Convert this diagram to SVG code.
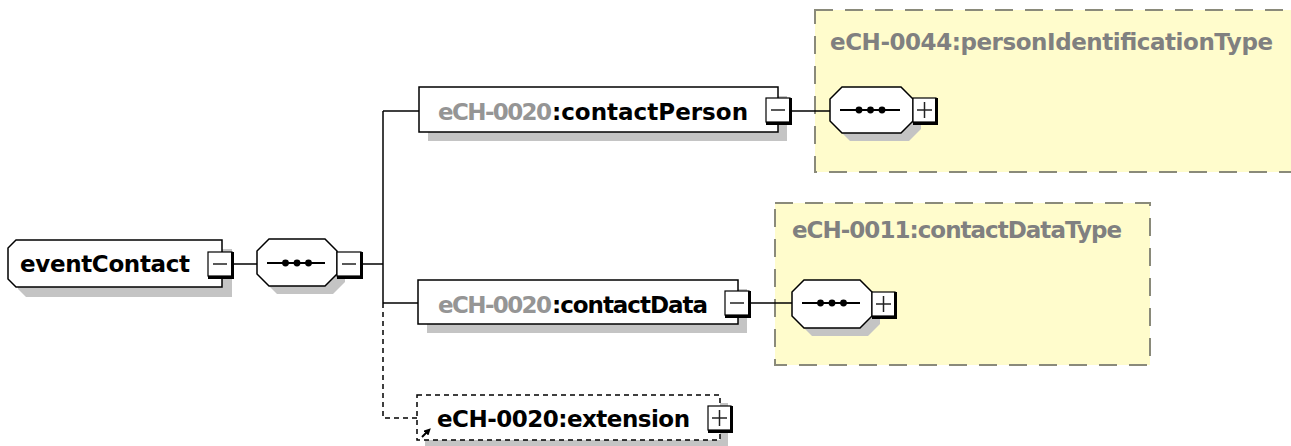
<svg xmlns="http://www.w3.org/2000/svg" width="1291" height="446" viewBox="0 0 1291 446">
<style>
.shadow{fill:#c4c4c4;stroke:none}
.box{fill:#fff;stroke:#000;stroke-width:1.5}
.grp{fill:#fffccc;stroke:#8a8a7a;stroke-width:2;stroke-dasharray:18 12}
.btn{fill:#fff;stroke:#000;stroke-width:1.2}
.btnedge{fill:none;stroke:#000;stroke-width:3}
.sym{fill:none;stroke:#222;stroke-width:1.5}
.conn{fill:none;stroke:#000;stroke-width:1.5}
.dash{fill:none;stroke:#000;stroke-width:1.5;stroke-dasharray:5 4}
.t{font-family:"DejaVu Sans",Verdana,sans-serif;font-weight:bold;font-size:23px}
.k{fill:#000}
.g{fill:#959595}
.gt{fill:#808080}
.seqline{stroke:#000;stroke-width:1.8}
</style>
<defs>
<g id="minus">
<rect class="btn" x="0" y="0" width="24" height="24"/>
<polyline class="btnedge" points="24.5,0 24.5,25.5 0,25.5"/>
<line class="sym" x1="5" y1="12" x2="19" y2="12"/>
</g>
<g id="plus">
<rect class="btn" x="0" y="0" width="23" height="24"/>
<polyline class="btnedge" points="23.5,0 23.5,25.5 0,25.5"/>
<line class="sym" x1="4" y1="12" x2="19" y2="12"/>
<line class="sym" x1="11.5" y1="4" x2="11.5" y2="20"/>
</g>
<marker id="ah" markerWidth="7" markerHeight="7" refX="3" refY="3.5" orient="auto" markerUnits="userSpaceOnUse">
<path d="M0,0 L7,3.5 L0,7 Z" fill="#000"/>
</marker>
</defs>

<g id="group-personIdentificationType">
<rect class="grp" x="815" y="10" width="490" height="162"/>
<text class="t gt" x="830" y="50" textLength="443">eCH-0044:personIdentificationType</text>
</g>
<g id="group-contactDataType">
<rect class="grp" x="775" y="203" width="375" height="162"/>
<text class="t gt" x="792" y="238" textLength="330">eCH-0011:contactDataType</text>
</g>

<g id="connectors">
<line class="conn" x1="233" y1="264" x2="257" y2="264"/>
<line class="conn" x1="362" y1="264" x2="383" y2="264"/>
<line class="conn" x1="383" y1="111" x2="383" y2="303"/>
<line class="conn" x1="383" y1="111" x2="419" y2="111"/>
<line class="conn" x1="383" y1="303" x2="418" y2="303"/>
<line class="conn" x1="791" y1="111" x2="830" y2="111"/>
<line class="conn" x1="750" y1="303" x2="792" y2="303"/>
<polyline class="dash" points="383,303 383,418 417,418"/>
</g>

<g id="eventContact">
<path class="shadow" d="M26,249 H232 V297 H26 L18,289 V257 Z"/>
<path class="box" d="M16,240 H222 V287 H16 L8,279 V248 Z"/>
<text class="t k" x="20" y="272" textLength="170">eventContact</text>
<use href="#minus" x="208" y="252"/>
</g>

<g id="sequence-1">
<path class="shadow" d="M277,247 H333 L345,259 V282 L333,294 H277 L265,282 V259 Z"/>
<path class="box" d="M269,239 H325 L337,251 V274 L325,286 H269 L257,274 V251 Z"/>
<line class="seqline" x1="267" y1="263" x2="325" y2="263"/>
<circle cx="285.5" cy="263" r="3.4"/><circle cx="297" cy="263" r="3.4"/><circle cx="308.5" cy="263" r="3.4"/>
<use href="#minus" x="337" y="252"/>
</g>

<g id="contactPerson">
<rect class="shadow" x="428" y="96" width="359" height="45"/>
<rect class="box" x="419" y="87" width="359" height="45"/>
<text class="t g" x="438" y="120" textLength="114">eCH-0020</text>
<text class="t k" x="552" y="120" textLength="196">:contactPerson</text>
<use href="#minus" x="766" y="98"/>
</g>

<g id="sequence-2">
<path class="shadow" d="M850,95 H909 L921,107 V129 L909,141 H850 L838,129 V107 Z"/>
<path class="box" d="M842,87 H901 L913,99 V121 L901,133 H842 L830,121 V99 Z"/>
<line class="seqline" x1="840" y1="110" x2="900" y2="110"/>
<circle cx="859" cy="110" r="3.4"/><circle cx="870.5" cy="110" r="3.4"/><circle cx="882" cy="110" r="3.4"/>
<use href="#plus" x="913" y="98"/>
</g>

<g id="contactData">
<rect class="shadow" x="427" y="289" width="320" height="44"/>
<rect class="box" x="418" y="280" width="320" height="44"/>
<text class="t g" x="438" y="313" textLength="114">eCH-0020</text>
<text class="t k" x="552" y="313" textLength="156">:contactData</text>
<use href="#minus" x="725" y="291"/>
</g>

<g id="sequence-3">
<path class="shadow" d="M812,288 H868 L880,300 V324 L868,336 H812 L800,324 V300 Z"/>
<path class="box" d="M804,280 H860 L872,292 V316 L860,328 H804 L792,316 V292 Z"/>
<line class="seqline" x1="802" y1="303" x2="860" y2="303"/>
<circle cx="820.5" cy="303" r="3.4"/><circle cx="832" cy="303" r="3.4"/><circle cx="843.5" cy="303" r="3.4"/>
<use href="#plus" x="872" y="292"/>
</g>

<g id="extension">
<rect class="shadow" x="425" y="403" width="303" height="45"/>
<rect x="417" y="395" width="303" height="45" fill="#fff" stroke="#000" stroke-width="1.5" stroke-dasharray="5 4"/>
<text class="t k" x="437" y="427" textLength="253">eCH-0020:extension</text>
<line x1="422" y1="437" x2="428" y2="431" stroke="#000" stroke-width="2" marker-end="url(#ah)"/>
<use href="#plus" x="708" y="406"/>
</g>
</svg>
